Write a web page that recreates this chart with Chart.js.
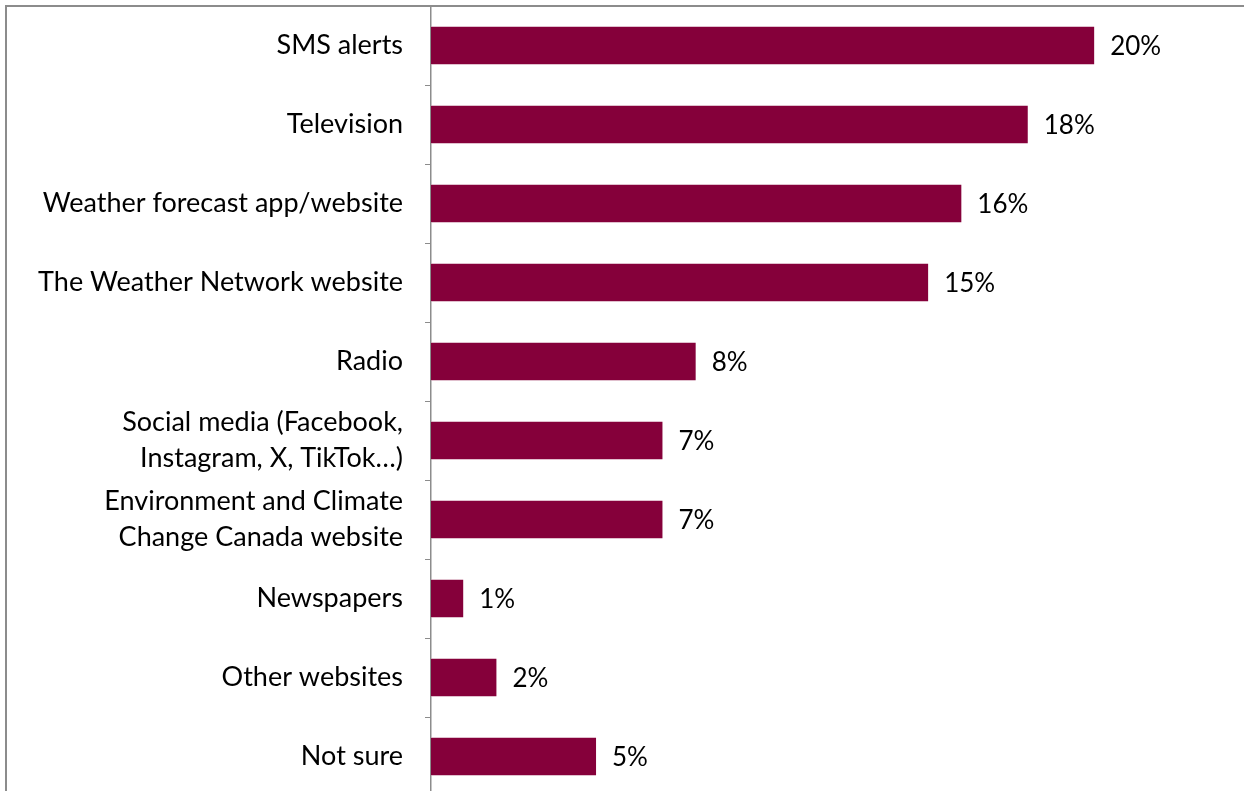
<!DOCTYPE html>
<html>
<head>
<meta charset="utf-8">
<script src="https://cdn.jsdelivr.net/npm/chart.js@4"></script>
<style>
  html, body { margin: 0; padding: 0; background: #fff; overflow: hidden; }
  #wrap { position: absolute; left: 0; top: 0; }
</style>
</head>
<body>
<div id="wrap"><canvas id="myChart" width="1244" height="800"></canvas></div>
<script>
const categories = [
  "SMS alerts",
  "Television",
  "Weather forecast app/website",
  "The Weather Network website",
  "Radio",
  ["Social media (Facebook,", "Instagram, X, TikTok\u2026)"],
  ["Environment and Climate", "Change Canada website"],
  "Newspapers",
  "Other websites",
  "Not sure",
];
const shares = [20, 18, 16, 15, 8, 7, 7, 1, 2, 5];
const xMax = 24;

const barColor = "#85003a";
const lineColor = "#8c8c8c";
const fontFamily = "Lato, 'Open Sans', sans-serif";

// outer frame, left and top edges only show in view
const framePlugin = {
  id: "frame",
  beforeDraw(chart) {
    const c = chart.ctx;
    c.save();
    c.strokeStyle = lineColor;
    c.lineWidth = 2;
    c.beginPath();
    c.moveTo(6, chart.height + 10);
    c.lineTo(6, 6);
    c.lineTo(chart.width + 10, 6);
    c.stroke();
    c.restore();
  },
};

// percentage labels at the end of each bar
const valueLabels = {
  id: "valueLabels",
  afterDatasetsDraw(chart) {
    const c = chart.ctx;
    const meta = chart.getDatasetMeta(0);
    c.save();
    c.font = "26px " + fontFamily;
    c.fillStyle = "#000";
    c.textAlign = "left";
    c.textBaseline = "middle";
    meta.data.forEach((bar, i) => {
      c.fillText(shares[i] + "%", bar.x + 15, bar.y + 1);
    });
    c.restore();
  },
};

const ctx = document.getElementById("myChart");
const myChart = new Chart(ctx, {
  type: "bar",
  data: {
    labels: categories,
    datasets: [
      {
        data: shares,
        backgroundColor: barColor,
        borderColor: "rgba(255,255,255,0.5)",
        borderWidth: 1,
        borderSkipped: "left",
        categoryPercentage: 1,
        barPercentage: 0.5,
      },
    ],
  },
  options: {
    indexAxis: "y",
    responsive: false,
    animation: false,
    events: [],
    layout: {
      padding: { top: 6, bottom: 4, left: 6, right: 16 },
    },
    plugins: {
      legend: { display: false },
      tooltip: { enabled: false },
    },
    scales: {
      x: {
        display: false,
        min: 0,
        max: xMax,
      },
      y: {
        afterFit(scale) {
          scale.width = 425;
          // two-line labels should not push the plot area in
          scale.paddingTop = 0;
          scale.paddingBottom = 0;
        },
        border: { display: true, color: lineColor, width: 1.5 },
        grid: {
          offset: true,
          drawOnChartArea: false,
          drawTicks: true,
          tickLength: 6,
          color: lineColor,
        },
        ticks: {
          padding: 22,
          color: "#000",
          font: { family: fontFamily, size: 27, lineHeight: 1.33 },
        },
      },
    },
  },
  plugins: [framePlugin, valueLabels],
});
</script>
</body>
</html>
